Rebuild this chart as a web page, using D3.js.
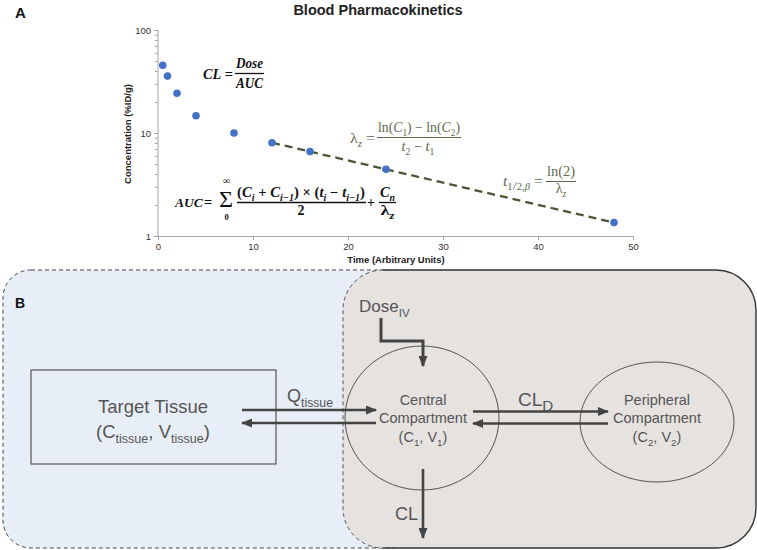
<!DOCTYPE html>
<html><head><meta charset="utf-8">
<script src="https://cdn.jsdelivr.net/npm/d3@7"></script>
<style>body{margin:0;background:#fff}svg{display:block}</style>
</head><body><svg id="c" width="757" height="550"></svg>
<script>
// ---- data ----
const times = [0.5, 1, 2, 4, 8, 12, 16, 24, 48];
const concentrations = [45.5, 35.7, 24.3, 14.7, 10, 8.05, 6.6, 4.45, 1.35];
const fitTimes = [12, 48];
const fitConcentrations = [8.05, 1.35];
const xTickValues = [0, 10, 20, 30, 40, 50];
const yTickValues = [1, 10, 100];
const yMinorTicks = [2,3,4,5,6,7,8,9,20,30,40,50,60,70,80,90];

const SANS = "'Liberation Sans', Arial, sans-serif";
const SERIF = "'Liberation Serif', 'Times New Roman', serif";
const svg = d3.select("#c");

// rich text helper
function rich(g, x, y, segs, o) {
  o = o || {};
  const size = o.size || 14;
  const t = g.append("text").attr("x", x).attr("y", y)
    .attr("font-family", o.family || SANS).attr("font-size", size)
    .attr("fill", o.fill || "#111").attr("text-anchor", o.anchor || "start");
  if (o.bold) t.attr("font-weight", "bold");
  if (o.len) t.attr("textLength", o.len).attr("lengthAdjust", "spacingAndGlyphs");
  let cur = 0;
  segs.forEach(s => {
    if (typeof s === "string") s = {t: s};
    const shift = s.sub ? size * 0.28 : (s.sup ? -size * 0.4 : 0);
    const ts = t.append("tspan").text(s.t).attr("dy", shift - cur);
    cur = shift;
    if (s.sub || s.sup) ts.attr("font-size", size * (s.scale || 0.68));
    if (s.i) ts.attr("font-style", "italic");
  });
  return t;
}

// ---- Panel B background (drawn first) ----
const gB = svg.append("g");
gB.append("rect").attr("x", 3).attr("y", 270).attr("width", 420).attr("height", 278)
  .attr("rx", 28).attr("fill", "#e8eef7").attr("stroke", "#444").attr("stroke-width", 1)
  .attr("stroke-dasharray", "4,3");
gB.append("rect").attr("x", 343).attr("y", 270).attr("width", 413).attr("height", 278)
  .attr("rx", 40).attr("fill", "#e5e2e0");
gB.append("path").attr("d", "M383,270 A40,40 0 0 0 343,310 V508 A40,40 0 0 0 383,548")
  .attr("fill", "none").attr("stroke", "#555").attr("stroke-width", 1).attr("stroke-dasharray", "4,3");
gB.append("path").attr("d", "M383,270 H716 A40,40 0 0 1 756,310 V508 A40,40 0 0 1 716,548 H383")
  .attr("fill", "none").attr("stroke", "#333").attr("stroke-width", 1.4);

// ---- Panel A chart ----
const x = d3.scaleLinear().domain([0, 50]).range([158, 633]);
const y = d3.scaleLog().domain([1, 100]).range([236, 30]);
const gA = svg.append("g");

const yAxis = d3.axisLeft(y).tickValues(yTickValues).tickFormat(d3.format("d")).tickSize(4).tickPadding(3);
const gy = gA.append("g").attr("transform", "translate(158,0)").call(yAxis);
const gyMinor = gA.append("g").attr("transform", "translate(158,0)")
  .call(d3.axisLeft(y).tickValues(yMinorTicks).tickFormat("").tickSize(3));
gyMinor.select(".domain").remove();
const xAxis = d3.axisBottom(x).tickValues(xTickValues).tickSize(4).tickPadding(3);
const gx = gA.append("g").attr("transform", "translate(0,236)").call(xAxis);
[gy, gyMinor, gx].forEach(g => {
  g.selectAll("path,line").attr("stroke", "#a6a6a6").attr("stroke-width", 1);
  g.selectAll("text").attr("font-family", SANS).attr("font-size", 9.5).attr("fill", "#333");
});
gy.select(".domain").attr("d", "M0,30V236");

gA.append("text").attr("x", 396).attr("y", 263).attr("text-anchor", "middle")
  .attr("font-family", SANS).attr("font-weight", "bold").attr("font-size", 9.5).attr("fill", "#222")
  .text("Time (Arbitrary Units)");
gA.append("text").attr("transform", "translate(131,134) rotate(-90)").attr("text-anchor", "middle")
  .attr("font-family", SANS).attr("font-weight", "bold").attr("font-size", 9.5).attr("fill", "#222")
  .text("Concentration (%ID/g)");
gA.append("text").attr("x", 378).attr("y", 15).attr("text-anchor", "middle")
  .attr("font-family", SANS).attr("font-weight", "bold").attr("font-size", 14.5).attr("fill", "#222")
  .text("Blood Pharmacokinetics");
svg.append("text").attr("x", 15).attr("y", 18).attr("font-family", SANS).attr("font-weight", "bold")
  .attr("font-size", 15).attr("fill", "#111").text("A");
svg.append("text").attr("x", 15).attr("y", 308).attr("font-family", SANS).attr("font-weight", "bold")
  .attr("font-size", 14).attr("fill", "#111").text("B");

// fit line
const fit = fitTimes.map((t, i) => [t, fitConcentrations[i]]);
gA.append("path").datum(fit)
  .attr("d", d3.line().x(d => x(d[0])).y(d => y(d[1])))
  .attr("fill", "none").attr("stroke", "#4b5636").attr("stroke-width", 2.3).attr("stroke-dasharray", "8,5");

// points
gA.selectAll("circle.pt").data(times.map((t, i) => [t, concentrations[i]])).enter()
  .append("circle").attr("class", "pt")
  .attr("cx", d => x(d[0])).attr("cy", d => y(d[1])).attr("r", 3.8).attr("fill", "#4472c4");

// ---- formulas ----
const F = svg.append("g");
function bar(x1, x2, yy, col, w) {
  F.append("line").attr("x1", x1).attr("x2", x2).attr("y1", yy).attr("y2", yy)
    .attr("stroke", col).attr("stroke-width", w || 1.1);
}
// CL = Dose/AUC
rich(F, 203, 79, [{t:"CL", i:true}, " ="], {family: SERIF, size: 15, bold: true, len: 30});
rich(F, 249.5, 68, [{t:"Dose", i:true}], {family: SERIF, size: 15, bold: true, anchor: "middle", len: 27});
bar(235, 264, 73.5, "#111", 1.3);
rich(F, 249.5, 88, [{t:"AUC", i:true}], {family: SERIF, size: 15, bold: true, anchor: "middle", len: 27});

// AUC sum
rich(F, 175, 207, [{t:"AUC", i:true}], {family: SERIF, size: 13.5, bold: true});
rich(F, 204, 207, ["="], {family: SERIF, size: 14.5, bold: true});
rich(F, 219, 207, ["\u03A3"], {family: SERIF, size: 24});
rich(F, 226.5, 184, ["\u221E"], {family: SERIF, size: 10, anchor: "middle", bold: true});
rich(F, 226.5, 220, ["0"], {family: SERIF, size: 8.5, anchor: "middle", bold: true});
rich(F, 237, 197, ["(", {t:"C", i:true}, {t:"i", i:true, sub:true}, " + ", {t:"C", i:true},
  {t:"i\u22121", i:true, sub:true}, ") \u00D7 (", {t:"t", i:true}, {t:"i", i:true, sub:true}, " \u2212 ",
  {t:"t", i:true}, {t:"i\u22121", i:true, sub:true}, ")"],
  {family: SERIF, size: 14, bold: true, len: 128});
bar(237, 366, 202.5, "#111", 1.3);
rich(F, 301, 215, ["2"], {family: SERIF, size: 14, bold: true, anchor: "middle"});
rich(F, 367, 207, ["+"], {family: SERIF, size: 14, bold: true});
rich(F, 387.5, 197, [{t:"C", i:true}, {t:"n", i:true, sub:true}], {family: SERIF, size: 14, bold: true, anchor: "middle", len: 15});
bar(379, 396, 202.5, "#111", 1.3);
rich(F, 387.5, 215, [{t:"\u03BB"}, {t:"z", i:true, sub:true}], {family: SERIF, size: 14, bold: true, anchor: "middle", len: 14});

// lambda_z
const G = "#5d6a4e";
rich(F, 350, 143, ["\u03BB", {t:"z", i:true, sub:true}, " ="], {family: SERIF, size: 14, fill: G, len: 25});
rich(F, 378, 132, ["ln(", {t:"C", i:true}, {t:"1", sub:true}, ") \u2212 ln(", {t:"C", i:true}, {t:"2", sub:true}, ")"],
  {family: SERIF, size: 14, fill: G, len: 82});
bar(377, 461, 137.5, G, 1);
rich(F, 418, 151, [{t:"t", i:true}, {t:"2", sub:true}, " \u2212 ", {t:"t", i:true}, {t:"1", sub:true}],
  {family: SERIF, size: 14, fill: G, anchor: "middle", len: 33});

// t1/2
rich(F, 503, 186, [{t:"t", i:true}, {t:"1", sub:true}, {t:"/", sub:true, scale:0.9}, {t:"2", sub:true}, {t:",\u03B2", sub:true, i:true}, " ="],
  {family: SERIF, size: 14, fill: G, len: 40});
rich(F, 561, 176, ["ln(2)"], {family: SERIF, size: 14, fill: G, anchor: "middle", len: 28});
bar(546, 576, 181.5, G, 1);
rich(F, 561, 193, ["\u03BB", {t:"z", i:true, sub:true}], {family: SERIF, size: 14, fill: G, anchor: "middle"});

// ---- Panel B diagram ----
const D = svg.append("g");
const defs = svg.append("defs");
defs.append("marker").attr("id", "ah").attr("markerUnits", "userSpaceOnUse")
  .attr("markerWidth", 11).attr("markerHeight", 9).attr("refX", 10).attr("refY", 4.5).attr("orient", "auto")
  .append("path").attr("d", "M0,0 L11,4.5 L0,9 Z").attr("fill", "#444");
const TC = "#555";
D.append("rect").attr("x", 31).attr("y", 370).attr("width", 245).attr("height", 94)
  .attr("fill", "none").attr("stroke", "#555").attr("stroke-width", 1.2);
D.append("ellipse").attr("cx", 422).attr("cy", 418).attr("rx", 77).attr("ry", 72)
  .attr("fill", "none").attr("stroke", "#555").attr("stroke-width", 1);
D.append("ellipse").attr("cx", 657).attr("cy", 422).attr("rx", 77).attr("ry", 60)
  .attr("fill", "none").attr("stroke", "#555").attr("stroke-width", 1);

function arrow(d, w) {
  D.append("path").attr("d", d).attr("fill", "none").attr("stroke", "#444")
    .attr("stroke-width", w || 2.4).attr("marker-end", "url(#ah)");
}
arrow("M242,410 H376");
arrow("M376,423 H242");
arrow("M473,411.5 H608");
arrow("M608,423.5 H473");
arrow("M381,318 V341 H423 V366", 3);
arrow("M423,469 V538", 2.6);

rich(D, 153, 413, ["Target Tissue"], {size: 18.5, fill: TC, anchor: "middle"});
rich(D, 153, 438, ["(C", {t:"tissue", sub:true}, ", V", {t:"tissue", sub:true}, ")"], {size: 18.5, fill: TC, anchor: "middle"});
rich(D, 287, 402, ["Q", {t:"tissue", sub:true}], {size: 18, fill: TC});
rich(D, 423, 405, ["Central"], {size: 14.5, fill: TC, anchor: "middle"});
rich(D, 423, 423, ["Compartment"], {size: 14.5, fill: TC, anchor: "middle"});
rich(D, 423, 442, ["(C", {t:"1", sub:true}, ", V", {t:"1", sub:true}, ")"], {size: 14.5, fill: TC, anchor: "middle"});
rich(D, 657, 405, ["Peripheral"], {size: 14.5, fill: TC, anchor: "middle"});
rich(D, 657, 423, ["Compartment"], {size: 14.5, fill: TC, anchor: "middle"});
rich(D, 657, 442, ["(C", {t:"2", sub:true}, ", V", {t:"2", sub:true}, ")"], {size: 14.5, fill: TC, anchor: "middle"});
rich(D, 518, 406, ["CL", {t:"D", sub:true, scale:0.8}], {size: 19, fill: TC});
rich(D, 359, 312, ["Dose", {t:"IV", sub:true}], {size: 17, fill: TC});
rich(D, 395, 520, ["CL"], {size: 18, fill: TC});
</script></body></html>
